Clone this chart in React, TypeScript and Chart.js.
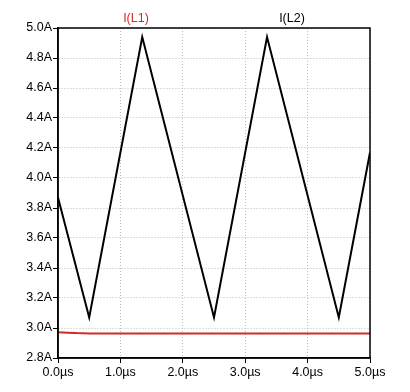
import React, { useEffect, useRef } from "react";
import { Chart, registerables } from "chart.js";

Chart.register(...registerables);

const timeL2 = [0, 0.5, 1.35, 2.5, 3.35, 4.5, 5];
const valuesL2 = [3.87, 3.07, 4.94, 3.07, 4.94, 3.07, 4.17];
const timeL1 = [0, 0.15, 0.3, 0.5, 1, 2, 3, 4, 5];
const valuesL1 = [2.972, 2.969, 2.966, 2.964, 2.963, 2.963, 2.963, 2.963, 2.963];
const seriesNames = ["I(L1)", "I(L2)"];
const seriesColors = ["#d02a2a", "#000000"];

const FONT = "'Liberation Sans', Arial, sans-serif";

const headerPlugin = {
  id: "header",
  afterDraw(chart: any) {
    const { ctx, chartArea } = chart;
    ctx.save();
    ctx.setLineDash([]);
    ctx.strokeStyle = "#000";
    ctx.lineWidth = 1.5;
    ctx.strokeRect(chartArea.left, chartArea.top, chartArea.right - chartArea.left, chartArea.bottom - chartArea.top);
    ctx.font = `12.5px ${FONT}`;
    ctx.textAlign = "center";
    ctx.textBaseline = "alphabetic";
    const w = chartArea.right - chartArea.left;
    [0.25, 0.75].forEach((f, i) => {
      ctx.fillStyle = seriesColors[i];
      ctx.fillText(seriesNames[i], chartArea.left + w * f, chartArea.top - 6);
    });
    ctx.restore();
  },
};

const gridOpts = {
  color: "#bdbdbd",
  tickColor: "#000",
  tickLength: 5,
  tickBorderDash: [],
  lineWidth: 1,
};

export default function App() {
  const ref = useRef<HTMLCanvasElement>(null);
  useEffect(() => {
    if (!ref.current) return;
    const chart = new Chart(ref.current, {
      type: "line",
      data: {
        datasets: [
          {
            label: seriesNames[0],
            data: timeL1.map((t, i) => ({ x: t, y: valuesL1[i] })),
            borderColor: seriesColors[0],
            borderWidth: 2,
            pointRadius: 0,
            tension: 0,
          },
          {
            label: seriesNames[1],
            data: timeL2.map((t, i) => ({ x: t, y: valuesL2[i] })),
            borderColor: seriesColors[1],
            borderWidth: 2,
            pointRadius: 0,
            tension: 0,
          },
        ],
      },
      options: {
        animation: false,
        responsive: false,
        layout: { padding: { top: 28, right: 40, left: 0, bottom: 0 } },
        plugins: { legend: { display: false }, tooltip: { enabled: false } },
        scales: {
          x: {
            type: "linear",
            min: 0,
            max: 5,
            afterFit(scale: any) { scale.height = 34; },
            ticks: {
              stepSize: 1,
              padding: 2,
              color: "#000",
              font: { family: FONT, size: 12.5 },
              callback: (v: any) => `${Number(v).toFixed(1)}µs`,
              maxRotation: 0,
            },
            grid: gridOpts,
            border: { display: true, color: "#000", width: 1.5, dash: [1, 2] },
          },
          y: {
            min: 2.8,
            max: 5.0,
            afterFit(scale: any) { scale.width = 58; },
            ticks: {
              stepSize: 0.2,
              padding: 1,
              color: "#000",
              font: { family: FONT, size: 12.5 },
              callback: (v: any) => `${Number(v).toFixed(1)}A`,
            },
            grid: gridOpts,
            border: { display: true, color: "#000", width: 1.5, dash: [1, 2] },
          },
        },
      },
      plugins: [headerPlugin],
    } as any);
    return () => chart.destroy();
  }, []);
  return (
    <div style={{ position: "fixed", left: 0, top: 0, width: 410, height: 392, background: "#fff" }}>
      <canvas ref={ref} width={410} height={392} />
    </div>
  );
}
